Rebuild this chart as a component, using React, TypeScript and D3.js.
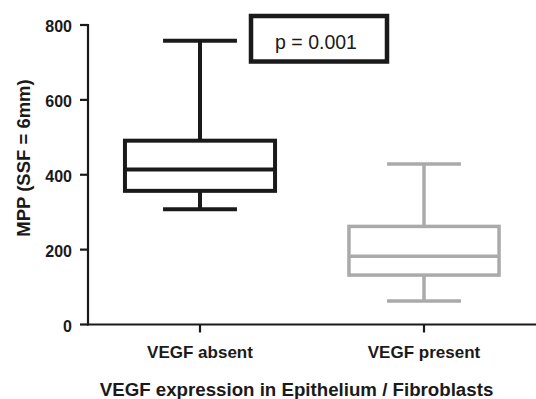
import React from "react";
import * as d3 from "d3";

const categories = ["VEGF absent", "VEGF present"];
const whiskerLow = [308, 63];
const q1 = [357, 132];
const median = [414, 182];
const q3 = [491, 262];
const whiskerHigh = [758, 429];
const yTicks = [0, 200, 400, 600, 800];
const colors = ["#1a1a1a", "#aaaaaa"];
const strokeWidths = [4, 3.5];
const pLabel = "p = 0.001";
const yTitle = "MPP (SSF = 6mm)";
const xTitle = "VEGF expression in Epithelium / Fibroblasts";

export default function App() {
  const W = 536, H = 399;
  const y = d3.scaleLinear().domain([0, 800]).range([324.5, 25]);
  const x = d3.scaleBand<string>().domain(categories).range([88, 536]);
  const bw = x.bandwidth();
  const boxW = bw * 0.67;
  const capW = bw * 0.33;
  const font = "'Liberation Sans', Arial, sans-serif";
  return (
    <svg width={W} height={H} style={{ position: "absolute", left: 0, top: 0 }} fontFamily={font}>
      <rect width={W} height={H} fill="#fff" />
      {/* axes */}
      <line x1={88} x2={88} y1={y(800) - 1} y2={y(0) + 1} stroke="#1a1a1a" strokeWidth={2.2} />
      <line x1={87} x2={536} y1={y(0)} y2={y(0)} stroke="#1a1a1a" strokeWidth={2.2} />
      {yTicks.map((t) => (
        <g key={t}>
          <line x1={80} x2={88} y1={y(t)} y2={y(t)} stroke="#1a1a1a" strokeWidth={2.2} />
          <text x={72} y={y(t) + 1.5} dy="0.35em" textAnchor="end" fontSize={16} fontWeight="bold" fill="#1a1a1a">{t}</text>
        </g>
      ))}
      {categories.map((c) => {
        const cx = (x(c) as number) + bw / 2;
        return (
          <g key={c}>
            <line x1={cx} x2={cx} y1={y(0)} y2={y(0) + 8} stroke="#1a1a1a" strokeWidth={2.2} />
            <text x={cx} y={357.5} textAnchor="middle" fontSize={17} fontWeight="bold" fill="#1a1a1a">{c}</text>
          </g>
        );
      })}
      <text x={296.5} y={396} textAnchor="middle" fontSize={18.7} fontWeight="bold" fill="#1a1a1a">{xTitle}</text>
      <text transform={`translate(23.5,158) rotate(-90)`} textAnchor="middle" dy="0.35em" fontSize={18.5} fontWeight="bold" fill="#1a1a1a">{yTitle}</text>
      {/* boxes */}
      {categories.map((c, i) => {
        const cx = (x(c) as number) + bw / 2;
        const col = colors[i];
        const sw = strokeWidths[i];
        return (
          <g key={c} stroke={col} strokeWidth={sw} fill="none">
            <line x1={cx} x2={cx} y1={y(whiskerHigh[i])} y2={y(q3[i])} />
            <line x1={cx} x2={cx} y1={y(q1[i])} y2={y(whiskerLow[i])} />
            <line x1={cx - capW / 2} x2={cx + capW / 2} y1={y(whiskerHigh[i])} y2={y(whiskerHigh[i])} />
            <line x1={cx - capW / 2} x2={cx + capW / 2} y1={y(whiskerLow[i])} y2={y(whiskerLow[i])} />
            <rect x={cx - boxW / 2} y={y(q3[i])} width={boxW} height={y(q1[i]) - y(q3[i])} />
            <line x1={cx - boxW / 2} x2={cx + boxW / 2} y1={y(median[i])} y2={y(median[i])} />
          </g>
        );
      })}
      {/* p-value box */}
      <rect x={251} y={16} width={136} height={45.5} fill="#fff" stroke="#1a1a1a" strokeWidth={4.5} />
      <text x={316} y={49} textAnchor="middle" fontSize={19.5} fill="#1a1a1a">{pLabel}</text>
    </svg>
  );
}
